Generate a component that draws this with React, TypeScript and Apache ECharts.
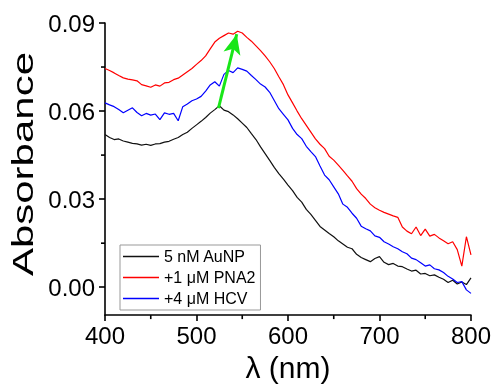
import React, { useEffect, useRef } from "react";
import * as echarts from "echarts";

const wavelengths = [
  400, 405, 410, 415, 420, 425, 430, 435, 440, 445, 450, 455, 460, 465, 470, 475, 480, 485, 490, 495,
  500, 505, 510, 515, 520, 525, 530, 535, 540, 545, 550, 555, 560, 565, 570, 575, 580, 585, 590, 595,
  600, 605, 610, 615, 620, 625, 630, 635, 640, 645, 650, 655, 660, 665, 670, 675, 680, 685, 690, 695,
  700, 705, 710, 715, 720, 725, 730, 735, 740, 745, 750, 755, 760, 765, 770, 775, 780, 785, 790, 795, 800,
];

const auNP = [
  0.052, 0.051, 0.0503, 0.0505, 0.0498, 0.0494, 0.049, 0.0488, 0.0484, 0.0487, 0.0483, 0.0488, 0.0489, 0.0494, 0.0497, 0.0504, 0.051, 0.052, 0.0528, 0.0541,
  0.0553, 0.0565, 0.0578, 0.0593, 0.0605, 0.0618, 0.0603, 0.0598, 0.0587, 0.0574, 0.0559, 0.0544, 0.0523, 0.0503, 0.0478, 0.0455, 0.0432, 0.0408, 0.0387, 0.0368,
  0.0348, 0.0329, 0.0306, 0.029, 0.0265, 0.0248, 0.0228, 0.0207, 0.0195, 0.0183, 0.0172, 0.0158, 0.0147, 0.0136, 0.0131, 0.0112, 0.0101, 0.0094, 0.0087, 0.0098,
  0.0104, 0.0085, 0.0077, 0.0081, 0.0072, 0.007, 0.0062, 0.0055, 0.0058, 0.0045, 0.0047, 0.0039, 0.0042, 0.0034, 0.0027, 0.0016, 0.0024, 0.0011, 0.0018, 0.0009, 0.0032,
];

const pna2 = [
  0.0745, 0.0738, 0.073, 0.0721, 0.0713, 0.0709, 0.0706, 0.0703, 0.069, 0.0686, 0.0681, 0.0689, 0.0685, 0.0696, 0.0698, 0.0707, 0.0712, 0.0723, 0.0734, 0.0745,
  0.0759, 0.0772, 0.0788, 0.0812, 0.0835, 0.0848, 0.0857, 0.0866, 0.0862, 0.0872, 0.0866, 0.0851, 0.0838, 0.0822, 0.0806, 0.0788, 0.0768, 0.0745, 0.0717, 0.069,
  0.0655, 0.0628, 0.06, 0.0574, 0.0551, 0.0528, 0.0505, 0.0487, 0.0472, 0.0446, 0.0433, 0.0416, 0.0398, 0.0379, 0.0361, 0.0336, 0.0317, 0.0302, 0.0283, 0.0271,
  0.0262, 0.0255, 0.0249, 0.0243, 0.0238, 0.0205, 0.0191, 0.0182, 0.0205, 0.0176, 0.0198, 0.0174, 0.018, 0.0168, 0.0158, 0.0148, 0.0155, 0.0128, 0.0072, 0.0172, 0.011,
];

const hcv = [
  0.0628, 0.0621, 0.0615, 0.0605, 0.0594, 0.0603, 0.0611, 0.0595, 0.0584, 0.0592, 0.0586, 0.059, 0.0571, 0.0594, 0.0589, 0.0592, 0.0567, 0.0615, 0.0624, 0.0635,
  0.0641, 0.065, 0.0668, 0.0689, 0.07, 0.0685, 0.0725, 0.0738, 0.0731, 0.0747, 0.0742, 0.0736, 0.0721, 0.0707, 0.0692, 0.0682, 0.0664, 0.0636, 0.0608, 0.0589,
  0.057, 0.0541, 0.052, 0.0506, 0.048, 0.0462, 0.0445, 0.0413, 0.0382, 0.0366, 0.0342, 0.0318, 0.0283, 0.0272, 0.0252, 0.0235, 0.0208, 0.0199, 0.0192, 0.0175,
  0.017, 0.0155, 0.0147, 0.0138, 0.0131, 0.0121, 0.0114, 0.0099, 0.0094, 0.0083, 0.0072, 0.0076, 0.0063, 0.0059, 0.005, 0.0037, 0.0028, 0.0016, 0.0019, -0.0009, -0.0021,
];

const seriesNames = ["5 nM AuNP", "+1 \u03bcM PNA2", "+4 \u03bcM HCV"];
const seriesColors = ["#111111", "#ff0000", "#0000ff"];
const xMin = 400;
const xMax = 800;
const yMin = -0.0095;
const yMax = 0.09;
const xMinorTicks = [450, 550, 650, 750];
const yMinorTicks = [0.015, 0.045, 0.075];
const arrowStart = [524, 0.061];
const arrowEnd = [544, 0.0862];

const FONT = '"Liberation Sans", Arial, sans-serif';

export default function App() {
  const ref = useRef<HTMLDivElement>(null);
  useEffect(() => {
    if (!ref.current) return;
    const chart = echarts.init(ref.current, undefined, { renderer: "svg" });
    const allData = [auNP, pna2, hcv];
    const lineSeries: any[] = allData.map((arr, i) => ({
      name: seriesNames[i],
      type: "line",
      data: wavelengths.map((w, j) => [w, arr[j]]),
      showSymbol: false,
      symbol: "none",
      lineStyle: { color: seriesColors[i], width: 1.2 },
      itemStyle: { color: seriesColors[i] },
    }));
    lineSeries[0].markLine = {
      silent: true,
      symbol: ["none", "arrow"],
      symbolSize: [13, 20],
      label: { show: false },
      lineStyle: { color: "#19e619", width: 3, type: "solid" },
      data: [[{ coord: arrowStart }, { coord: arrowEnd }]],
    };
    chart.setOption({
      animation: false,
      grid: { left: 105, right: 23, top: 23, bottom: 67 },
      xAxis: {
        type: "value",
        position: "bottom",
        min: xMin,
        max: xMax,
        interval: 100,
        name: "\u03bb (nm)",
        nameLocation: "middle",
        nameGap: 30,
        nameTextStyle: { fontSize: 30, color: "#000", fontFamily: FONT },
        axisLine: { show: true, onZero: false, lineStyle: { color: "#000", width: 1.6 } },
        axisTick: { show: true, length: 6, lineStyle: { color: "#000", width: 1.6 } },
        axisLabel: { fontSize: 24, color: "#000", margin: 8, fontFamily: FONT },
        splitLine: { show: false },
      },
      yAxis: {
        type: "value",
        position: "left",
        min: yMin,
        max: yMax,
        splitNumber: 3,
        axisLine: { show: true, onZero: false, lineStyle: { color: "#000", width: 1.6 } },
        axisTick: { show: true, length: 6, lineStyle: { color: "#000", width: 1.6 } },
        axisLabel: {
          fontSize: 24,
          color: "#000",
          margin: 10,
          fontFamily: FONT,
          showMinLabel: false,
          formatter: (v: number) => v.toFixed(2),
        },
        splitLine: { show: false },
      },
      legend: {
        data: seriesNames,
        orient: "vertical",
        left: 120,
        top: 245,
        icon: "rect",
        itemWidth: 36,
        itemHeight: 1.5,
        itemGap: 4,
        padding: [3, 5, 3, 3],
        borderColor: "#999",
        borderWidth: 1,
        backgroundColor: "#fff",
        textStyle: { fontSize: 16, lineHeight: 17, color: "#000", fontFamily: FONT },
      },
      series: lineSeries,
    });

    const px = (v: number) => chart.convertToPixel({ xAxisIndex: 0 }, v) as number;
    const py = (v: number) => chart.convertToPixel({ yAxisIndex: 0 }, v) as number;
    const left = px(xMin);
    const top = py(yMax);
    const bottom = py(yMin);
    const fill = { fill: "#000" };
    const g: any[] = [];
    xMinorTicks.forEach((v) => {
      const x = px(v);
      g.push({ type: "rect", shape: { x: x - 0.8, y: bottom, width: 1.6, height: 4 }, style: fill, z: 50 });
    });
    yMinorTicks.forEach((v) => {
      const y = py(v);
      g.push({ type: "rect", shape: { x: left - 4, y: y - 0.8, width: 4, height: 1.6 }, style: fill, z: 50 });
    });
    g.push({
      type: "text",
      x: 23,
      y: (top + bottom) / 2 - 5,
      rotation: Math.PI / 2,
      scaleX: 1.4,
      style: {
        text: "Absorbance",
        fontSize: 30,
        fontFamily: FONT,
        fill: "#000",
        align: "center",
        verticalAlign: "middle",
      },
    });
    chart.setOption({ graphic: g });
    return () => chart.dispose();
  }, []);
  return (
    <div ref={ref} style={{ position: "fixed", left: 0, top: 0, width: 494, height: 387 }} />
  );
}
